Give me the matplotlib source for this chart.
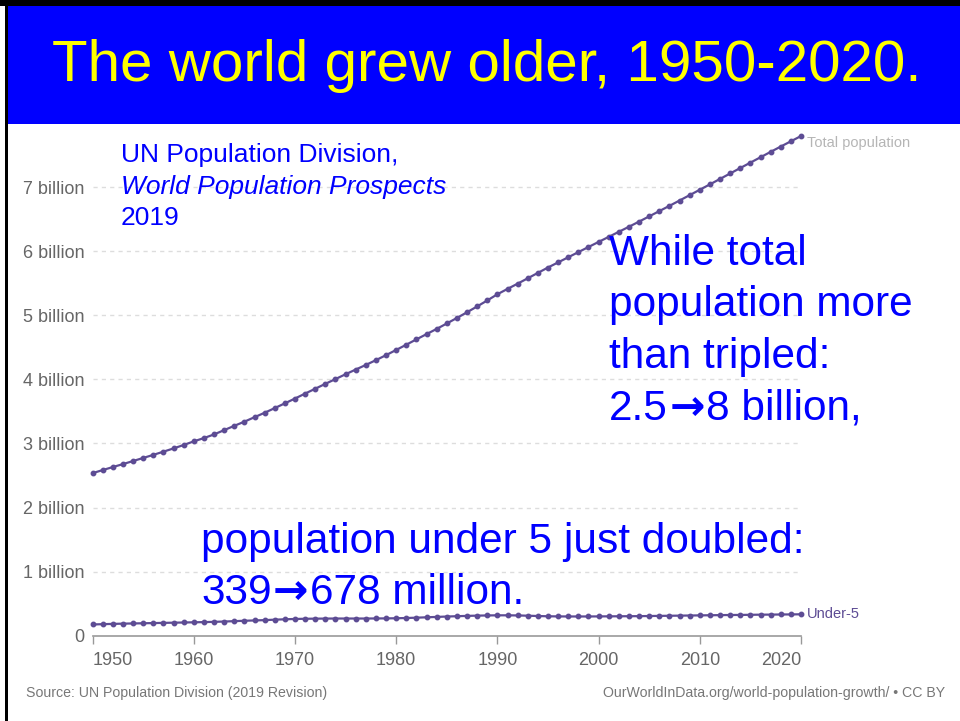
import matplotlib.pyplot as plt
from matplotlib.patches import Rectangle
from matplotlib.offsetbox import TextArea, HPacker, AnnotationBbox

years = list(range(1950, 2021))

# world population, billions (UN WPP 2019 as drawn)
total_pop = [
    2.536, 2.584, 2.631, 2.677, 2.725, 2.773, 2.821, 2.871, 2.922, 2.975,
    3.032, 3.083, 3.140, 3.207, 3.274, 3.339, 3.409, 3.478, 3.551, 3.625,
    3.700, 3.777, 3.853, 3.929, 4.004, 4.079, 4.152, 4.224, 4.299, 4.377,
    4.458, 4.540, 4.623, 4.705, 4.786, 4.871, 4.957, 5.046, 5.137, 5.230,
    5.327, 5.410, 5.492, 5.576, 5.660, 5.744, 5.824, 5.904, 5.984, 6.064,
    6.143, 6.222, 6.301, 6.380, 6.460, 6.542, 6.624, 6.706, 6.789, 6.873,
    6.957, 7.041, 7.126, 7.211, 7.296, 7.380, 7.464, 7.548, 7.631, 7.713,
    7.795,
]

# under-5 line, billions
under5 = [
    0.175, 0.180, 0.184, 0.188, 0.191, 0.194, 0.197, 0.200, 0.203, 0.206,
    0.209, 0.212, 0.216, 0.221, 0.227, 0.233, 0.238, 0.243, 0.250, 0.256,
    0.261, 0.264, 0.266, 0.267, 0.268, 0.268, 0.268, 0.268, 0.269, 0.270,
    0.272, 0.276, 0.281, 0.287, 0.293, 0.299, 0.304, 0.309, 0.313, 0.316,
    0.318, 0.318, 0.316, 0.312, 0.307, 0.303, 0.301, 0.300, 0.300, 0.300,
    0.301, 0.302, 0.303, 0.304, 0.305, 0.307, 0.309, 0.311, 0.313, 0.315,
    0.317, 0.319, 0.321, 0.323, 0.324, 0.326, 0.328, 0.329, 0.331, 0.332,
    0.334,
]

x_ticks = [1950, 1960, 1970, 1980, 1990, 2000, 2010, 2020]
y_ticks = [0, 1, 2, 3, 4, 5, 6, 7]
y_labels = ["0"] + [f"{v} billion" for v in y_ticks[1:]]

FONT = ["Liberation Sans", "DejaVu Sans"]
plt.rcParams["font.family"] = FONT

LINE = "#5d4c94"
GREY = "#666666"
BLUE = "#0000ff"
BIG = 30.5

W, H = 960, 721
fig = plt.figure(figsize=(W / 100, H / 100), dpi=100)
fig.patch.set_facecolor("white")


def fx(px):
    return px / W


def fy(py):
    return 1 - py / H


def arrow_line(x, y, left, right):
    # text with a heavy arrow in the middle, like the slide's Wingdings arrow
    props = dict(color=BLUE, fontsize=BIG, family=FONT)
    parts = [
        TextArea(left, textprops=props),
        TextArea("\u2192", textprops=dict(color=BLUE, fontsize=BIG, family="DejaVu Sans",
                                          weight="bold")),
        TextArea(right, textprops=props),
    ]
    box = HPacker(children=parts, pad=0, sep=1, align="baseline")
    ab = AnnotationBbox(box, (fx(x), fy(y)), xycoords="figure fraction",
                        box_alignment=(0, 0.5), frameon=False, pad=0)
    fig.add_artist(ab)


# banner + frame
fig.add_artist(Rectangle((fx(6), fy(124)), 1 - fx(6), fy(6) - fy(124),
                         transform=fig.transFigure, facecolor="#0000ff", edgecolor="none"))
fig.add_artist(Rectangle((0, fy(6)), 1, 1 - fy(6),
                         transform=fig.transFigure, facecolor="black", edgecolor="none"))
fig.add_artist(Rectangle((fx(5), 0), fx(3), 1,
                         transform=fig.transFigure, facecolor="black", edgecolor="none"))
fig.text(fx(487), fy(66), "The world grew older, 1950-2020.", color="#ffff00",
         fontsize=42, ha="center", va="center")

# chart area
ymax = 7.8
ax = fig.add_axes([fx(92.6), fy(635.7), fx(801) - fx(92.6), fy(635.7 - ymax * 64.1) - fy(635.7)])
ax.set_xlim(1950, 2020)
ax.set_ylim(0, ymax)
ax.patch.set_alpha(0)
for s in ["top", "right", "left"]:
    ax.spines[s].set_visible(False)
ax.spines["bottom"].set_color("#999999")
ax.spines["bottom"].set_linewidth(1.2)

for v in y_ticks[1:]:
    ax.axhline(v, color="#dddddd", lw=1, ls=(0, (3, 3)), zorder=0)

ax.plot(years, total_pop, color=LINE, lw=1.6, marker="o", ms=3.2, clip_on=False, zorder=3)
ax.plot(years, under5, color=LINE, lw=1.6, marker="o", ms=3.2, clip_on=False, zorder=3)

ax.set_yticks(y_ticks)
ax.set_yticklabels(y_labels)
ax.tick_params(axis="y", length=0, pad=6, labelsize=13, labelcolor=GREY)
ax.set_xticks(x_ticks)
ax.set_xticklabels([str(x) for x in x_ticks])
ax.tick_params(axis="x", length=6, width=1, color="#999999", pad=6,
               labelsize=13, labelcolor=GREY)
xl = ax.get_xticklabels()
xl[0].set_ha("left")
xl[-1].set_ha("right")

ax.text(2020.6, total_pop[-1] - 0.11, "Total population", color="#b5b5b5", fontsize=10.5,
        ha="left", va="center")
ax.text(2020.6, under5[-1], "Under-5", color=LINE, fontsize=10.5,
        ha="left", va="center")

# annotations
fig.text(fx(121), fy(155), "UN Population Division,", color=BLUE, fontsize=19, va="center")
fig.text(fx(121), fy(187), "World Population Prospects", color=BLUE, fontsize=19,
         va="center", style="italic")
fig.text(fx(121), fy(218), "2019", color=BLUE, fontsize=19, va="center")

big = ["While total", "population more", "than tripled:"]
for i, line in enumerate(big):
    fig.text(fx(609), fy(254 + i * 51.3), line, color=BLUE, fontsize=BIG, va="center")
arrow_line(609, 254 + 3 * 51.3, "2.5", "8 billion,")

fig.text(fx(201), fy(542), "population under 5 just doubled:", color=BLUE, fontsize=BIG, va="center")
arrow_line(201, 592, "339", "678 million.")

fig.text(fx(327), fy(693), "Source: UN Population Division (2019 Revision)", color="#777777",
         fontsize=10.2, va="center", ha="right")
fig.text(fx(945), fy(693), "OurWorldInData.org/world-population-growth/ \u2022 CC BY",
         color="#777777", fontsize=10.2, va="center", ha="right")

fig.savefig("out.png", dpi=100)
